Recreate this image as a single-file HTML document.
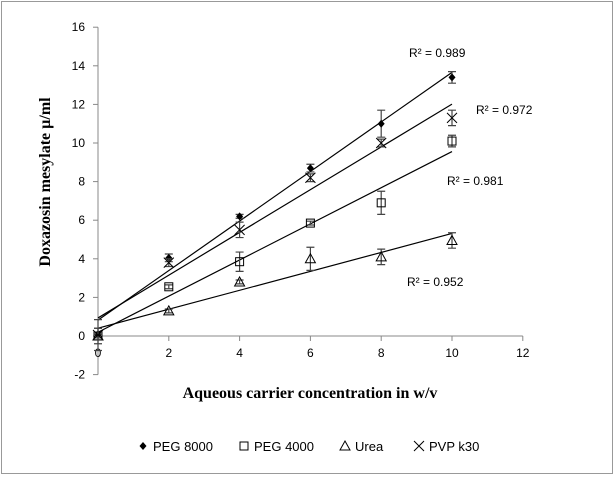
<!DOCTYPE html>
<html><head><meta charset="utf-8">
<style>
body{margin:0;background:#fff;}
svg text{font-family:"Liberation Sans",sans-serif;}
</style></head>
<body>
<svg id="c" width="615" height="476" xmlns="http://www.w3.org/2000/svg">
<rect x="1.5" y="1.5" width="611" height="472" fill="#fff" stroke="#999"/>
<g id="g"></g>
<text x="-182" y="50" transform="rotate(-90)" text-anchor="middle" font-weight="bold" font-size="16" style="font-family:'Liberation Serif',serif">Doxazosin mesylate  µ/ml</text>
<text x="310" y="398" text-anchor="middle" font-weight="bold" font-size="16" style="font-family:'Liberation Serif',serif">Aqueous carrier concentration in w/v</text>
</svg>
<script>
const xs=[0,2,4,6,8,10];
const peg8000=[0.1,4.05,6.2,8.7,11.0,13.4];
const peg8000Err=[0.3,0.2,0.1,0.2,0.7,0.3];
const peg4000=[0.0,2.55,3.85,5.85,6.9,10.1];
const peg4000Err=[0.1,0.1,0.5,0.1,0.6,0.3];
const urea=[0.0,1.3,2.8,4.0,4.1,4.95];
const ureaErr=[0.4,0.1,0.1,0.6,0.4,0.4];
const pvp=[0.05,3.8,5.5,8.2,10.0,11.3];
const pvpErr=[0.8,0.2,0.4,0.2,0.2,0.4];
const r2=["R² = 0.989","R² = 0.981","R² = 0.952","R² = 0.972"];
const xTicks=[0,2,4,6,8,10,12];
const yTicks=[-2,0,2,4,6,8,10,12,14,16];
const NS='http://www.w3.org/2000/svg';
const g=document.getElementById('g');
const X=v=>98+v*35.4, Y=v=>336-v*19.3;
function mk(t,a,p){const e=document.createElementNS(NS,t);for(const k in a)e.setAttribute(k,a[k]);(p||g).appendChild(e);return e;}
let e;
e=mk('line',{x1:98,y1:Y(16),x2:98,y2:Y(-2),stroke:'#888'});


e=mk('line',{x1:98,y1:Y(0),x2:X(12),y2:Y(0),stroke:'#888'});


yTicks.forEach(v=>{mk('line',{x1:93,y1:Y(v),x2:98,y2:Y(v),stroke:'#888'});
e=mk('text',{x:85,y:Y(v)+4,'text-anchor':'end','font-size':12});e.textContent=v;

});
xTicks.forEach(v=>{mk('line',{x1:X(v),y1:Y(0),x2:X(v),y2:Y(0)+5,stroke:'#888'});
e=mk('text',{x:X(v),y:Y(-1.1),'text-anchor':'middle','font-size':12});e.textContent=v;

});
function marker(type,cx,cy,p){
 if(type==='d')mk('path',{d:`M${cx} ${cy-4}L${cx+3.5} ${cy}L${cx} ${cy+4}L${cx-3.5} ${cy}Z`,fill:'#000'},p);
 if(type==='s')mk('rect',{x:cx-4,y:cy-4,width:8,height:8,fill:'none',stroke:'#000'},p);
 if(type==='t')mk('path',{d:`M${cx} ${cy-5}L${cx+5} ${cy+4}L${cx-5} ${cy+4}Z`,fill:'none',stroke:'#000'},p);
 if(type==='x')mk('path',{d:`M${cx-5} ${cy-5}L${cx+5} ${cy+5}M${cx+5} ${cy-5}L${cx-5} ${cy+5}`,stroke:'#000'},p);
}
const series=[[peg8000,peg8000Err,'d','peg-8000',[409,57]],[peg4000,peg4000Err,'s','peg-4000',[447,185]],[urea,ureaErr,'t','urea',[407,286]],[pvp,pvpErr,'x','pvp-k30',[476,114]]];
series.forEach((s,i)=>{
 const [ys,er,m,n,lp]=s;
 const grp=mk('g',{});
 
 
 const mx=xs.reduce((a,b)=>a+b)/xs.length,my=ys.reduce((a,b)=>a+b)/ys.length;
 let sxy=0,sxx=0;xs.forEach((x,j)=>{sxy+=(x-mx)*(ys[j]-my);sxx+=(x-mx)**2;});
 const b=sxy/sxx,a=my-b*mx;
 e=mk('line',{x1:X(0),y1:Y(a),x2:X(10),y2:Y(a+b*10),stroke:'#000','stroke-width':1.2},grp);
 
 
 xs.forEach((x,j)=>{
  const cx=X(x),t=Y(ys[j]+er[j]),bo=Y(ys[j]-er[j]);
  mk('path',{d:`M${cx} ${t}L${cx} ${bo}M${cx-4} ${t}L${cx+4} ${t}M${cx-4} ${bo}L${cx+4} ${bo}`,stroke:'#444','stroke-width':1.2},grp);
  marker(m,cx,Y(ys[j]),grp);
 });
 e=mk('text',{x:lp[0],y:lp[1],'text-anchor':'start','font-size':12},grp);e.textContent=r2[i];
 
 
});
const leg=[['d','PEG 8000',143],['s','PEG 4000',244],['t','Urea',345],['x','PVP k30',419]];
leg.forEach(l=>{const grp=mk('g',{});
 
 
 marker(l[0],l[2],446,grp);
 e=mk('text',{x:l[2]+10,y:451,'font-size':13},grp);e.textContent=l[1];});
</script>
</body></html>
